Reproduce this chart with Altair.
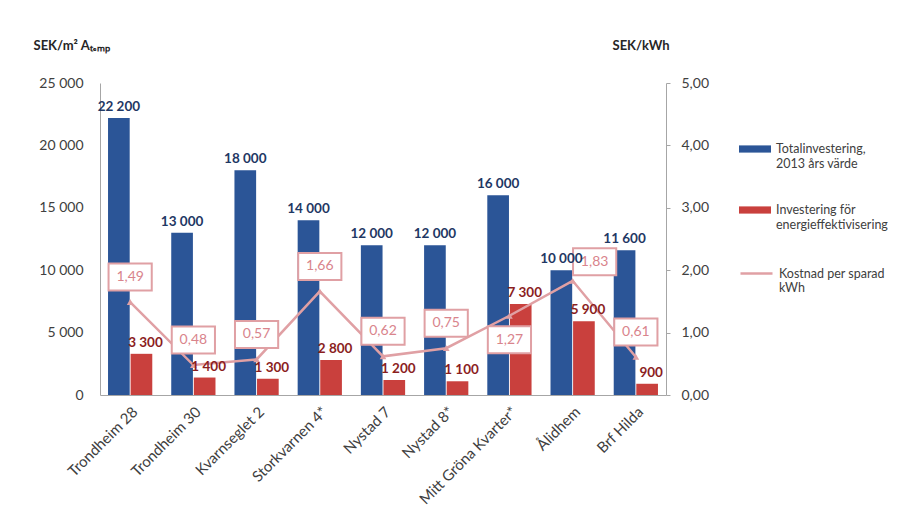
import altair as alt
import pandas as pd

categories = ["Trondheim 28", "Trondheim 30", "Kvarnseglet 2", "Storkvarnen 4*",
              "Nystad 7", "Nystad 8*", "Mitt Gröna Kvarter*", "Ålidhem", "Brf Hilda"]
total = [22200, 13000, 18000, 14000, 12000, 12000, 16000, 10000, 11600]
effekt = [3300, 1400, 1300, 2800, 1200, 1100, 7300, 5900, 900]
kostnad = [1.49, 0.48, 0.57, 1.66, 0.62, 0.75, 1.27, 1.83, 0.61]
series_names = ["Totalinvestering,\n2013 års värde", "Investering för\nenergieffektivisering"]
line_name = "Kostnad per sparad\nkWh"
left_ticks = [0, 5000, 10000, 15000, 20000, 25000]
right_ticks = [0, 0.5, 1.0, 1.5, 2.0, 2.5, 3.0, 3.5, 4.0, 4.5, 5.0]
# where each cost label sits relative to its point (label styling, not data)
labels_below = ["Mitt Gröna Kvarter*"]
labels_above_right = ["Ålidhem"]

FONT = "Lato"
BLUE = "#2B5597"
RED = "#C9403D"
PINK = "#E0A0A4"
PINK_TEXT = "#D9848C"
NAVY = "#1F3864"
DARKRED = "#8B1E1E"
AXIS = "#A6A6A6"
LABEL = "#404040"


def sek(v):
    return f"{v:,}".replace(",", " ")


def placement(c):
    if c in labels_below:
        return "below"
    if c in labels_above_right:
        return "right"
    return "above"


rows = []
for c, t, e in zip(categories, total, effekt):
    rows.append({"cat": c, "series": series_names[0], "value": t, "label": sek(t)})
    rows.append({"cat": c, "series": series_names[1], "value": e, "label": sek(e)})
bar_df = pd.DataFrame(rows)

line_df = pd.DataFrame({
    "cat": categories,
    "kostnad": kostnad,
    "klabel": [f"{v:.2f}".replace(".", ",") for v in kostnad],
    "name": [line_name] * len(categories),
    "place": [placement(c) for c in categories],
})

x_axis = alt.Axis(title=None, labelAngle=-45, labelFont=FONT, labelFontSize=15,
                  labelColor=LABEL, ticks=False, domainColor=AXIS, labelPadding=9)
x = alt.X("cat:N", sort=categories,
          scale=alt.Scale(domain=categories, paddingInner=0.3, paddingOuter=0.127),
          axis=x_axis)
xoff = alt.XOffset("series:N", scale=alt.Scale(domain=series_names, paddingInner=0.04))

left_axis = alt.Axis(
    title="SEK/m² Aₜₑₘₚ", titleAngle=0, titleAlign="left", titleBaseline="middle",
    titleX=-67, titleY=-38, titleFont=FONT, titleFontSize=13, titleFontWeight="bold",
    titleColor="#262626", values=left_ticks,
    labelExpr="replace(format(datum.value, ',d'), ',', ' ')",
    grid=False, ticks=False, labelPadding=17, domainColor=AXIS,
    labelColor=LABEL, labelFontSize=14, labelFont=FONT, labelOverlap=False)

right_axis = alt.Axis(
    orient="right", title="SEK/kWh", titleAngle=0, titleAlign="left",
    titleBaseline="middle", titleX=-54, titleY=-38, titleFont=FONT, titleFontSize=13,
    titleFontWeight="bold", titleColor="#262626", values=right_ticks,
    labelExpr="replace(format(datum.value, '.2f'), '.', ',')",
    grid=False, tickSize=4, tickColor=AXIS, labelPadding=11, domainColor=AXIS,
    labelColor=LABEL, labelFontSize=14, labelFont=FONT, labelOverlap=False)

bar_legend = alt.Legend(
    orient="none", legendX=647, legendY=58, title=None,
    symbolType="M-2,-0.45L2,-0.45L2,0.45L-2,0.45Z", symbolSize=256,
    symbolStrokeWidth=0, labelExpr="split(datum.label, '\\n')",
    labelFont=FONT, labelFontSize=12.5, labelColor=LABEL, rowPadding=32,
    labelBaseline="middle", labelOffset=13, labelLimit=200)

line_legend = alt.Legend(
    orient="none", legendX=647, legendY=181, title=None,
    symbolType="M-2,0L2,0", symbolSize=256, symbolStrokeWidth=2.5,
    labelExpr="split(datum.label, '\\n')",
    labelFont=FONT, labelFontSize=12.5, labelColor=LABEL,
    labelBaseline="middle", labelOffset=13, labelLimit=200)

left_scale = alt.Scale(domain=[0, 25000], nice=False)

bars = alt.Chart(bar_df).mark_bar().encode(
    x=x, xOffset=xoff,
    y=alt.Y("value:Q", scale=left_scale, axis=left_axis),
    color=alt.Color("series:N", scale=alt.Scale(domain=series_names, range=[BLUE, RED]),
                    legend=bar_legend))

text_total = alt.Chart(bar_df).transform_filter(
    alt.datum.series == series_names[0]
).mark_text(font=FONT, fontSize=13.5, fontWeight="bold", color=NAVY, baseline="bottom", dy=-4).encode(
    x=x, xOffset=xoff, y=alt.Y("value:Q", scale=left_scale, axis=None), text="label:N")

text_eff = alt.Chart(bar_df).transform_filter(
    alt.datum.series == series_names[1]
).mark_text(font=FONT, fontSize=13.5, fontWeight="bold", color=DARKRED, baseline="bottom", dy=-4, dx=4).encode(
    x=x, xOffset=xoff, y=alt.Y("value:Q", scale=left_scale, axis=None), text="label:N")

y_right = alt.Y("kostnad:Q", scale=alt.Scale(domain=[0, 5], nice=False), axis=right_axis)

line = alt.Chart(line_df).mark_line(
    strokeWidth=2.5,
    point=alt.OverlayMarkDef(shape="triangle-up", size=45, filled=True)
).encode(
    x=x, y=y_right,
    color=alt.Color("name:N", scale=alt.Scale(domain=[line_name], range=[PINK]),
                    legend=line_legend))

BOX = "M-1.6,-1L1.6,-1L1.6,1L-1.6,1Z"


def box_layers(place, dx, dy):
    base = alt.Chart(line_df).transform_filter(alt.datum.place == place)
    b = base.mark_point(shape=BOX, size=729, filled=True, fill="white",
                        stroke=PINK, strokeWidth=2, opacity=1, xOffset=dx, yOffset=dy
                        ).encode(x=x, y=alt.Y("kostnad:Q"))
    t = base.mark_text(font=FONT, fontSize=14, color=PINK_TEXT, baseline="middle",
                       dx=dx, dy=dy
                       ).encode(x=x, y=alt.Y("kostnad:Q"), text="klabel:N")
    return [b, t]


right_layer = alt.layer(
    line,
    *box_layers("above", 0, -25),
    *box_layers("below", 0, 24),
    *box_layers("right", 22, -19),
)

bar_label_layer = alt.layer(text_total, text_eff)

chart = alt.layer(bars, right_layer, bar_label_layer).resolve_scale(
    y="independent", color="independent"
).properties(
    width=566, height=312,
    autosize=alt.AutoSizeParams(type="none"),
    padding={"left": 92, "top": 75, "right": 230, "bottom": 116},
    background="white",
).configure_view(stroke=None)

chart.save("out.html", embed_options={"renderer": "svg", "actions": False})
